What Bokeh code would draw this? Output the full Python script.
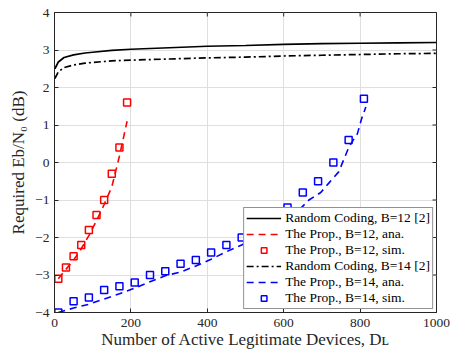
from math import pi
from bokeh.plotting import figure
from bokeh.models import Range1d, FixedTicker, Legend, LegendItem
from bokeh.embed import file_html
from bokeh.resources import INLINE

# ---------------- data ----------------
rc_x = [1, 10, 25, 50, 80, 100, 150, 200, 300, 400, 500, 600, 700, 800, 900, 1000]
rc12 = [2.5, 2.68, 2.8, 2.87, 2.92, 2.94, 2.99, 3.02, 3.06, 3.10, 3.12, 3.15, 3.17, 3.18, 3.19, 3.2]
rc14 = [2.24, 2.42, 2.53, 2.6, 2.65, 2.67, 2.71, 2.73, 2.76, 2.79, 2.81, 2.84, 2.86, 2.88, 2.9, 2.91]

b12_x = [10, 30, 50, 70, 90, 110, 130, 150, 170, 190]
b12_ana = [-3.1, -2.85, -2.6, -2.3, -1.95, -1.55, -1.12, -0.65, 0.17, 1.1]
b12_sim = [-3.1, -2.8, -2.5, -2.2, -1.8, -1.4, -1.0, -0.3, 0.4, 1.6]

b14_x = [10, 50, 90, 130, 170, 210, 250, 290, 330, 370, 410, 450, 490, 530, 570, 610, 650, 690, 730, 770, 810]
b14_sim = [-4.0, -3.7, -3.6, -3.4, -3.3, -3.2, -3.0, -2.9, -2.7, -2.6, -2.4, -2.2, -2.0, -1.8, -1.5, -1.2, -0.8, -0.5, 0.0, 0.6, 1.7]
b14_ana_x = [10, 50, 90, 130, 170, 210, 250, 290, 330, 370, 410, 450, 490, 530, 570, 610, 640, 666, 697, 718, 744, 771, 793, 804, 815]
b14_ana = [-4.0, -3.88, -3.78, -3.64, -3.5, -3.35, -3.18, -3.02, -2.92, -2.76, -2.58, -2.38, -2.2, -1.98, -1.75, -1.5, -1.27, -1.0, -0.8, -0.55, -0.25, 0.42, 0.77, 1.17, 1.48]

x_ticks = [0, 200, 400, 600, 800, 1000]
y_ticks = [-4, -3, -2, -1, 0, 1, 2, 3, 4]
x_lim = (0, 1000)
y_lim = (-4, 4)

labels = ["Random Coding, B=12 [2]", "The Prop., B=12, ana.", "The Prop., B=12, sim.",
          "Random Coding, B=14 [2]", "The Prop., B=14, ana.", "The Prop., B=14, sim."]
x_title = "Number of Active Legitimate Devices, D\u029f"
y_title = "Required Eb/N\u2080 (dB)"

FONT = "Liberation Serif"
AX = "#262626"

p = figure(width=454, height=352, x_range=Range1d(*x_lim), y_range=Range1d(*y_lim),
           output_backend="svg", toolbar_location=None,
           min_border_left=54, min_border_right=18, min_border_top=12, min_border_bottom=40)
p.background_fill_color = "white"
p.border_fill_color = "white"
p.outline_line_color = AX
p.outline_line_width = 1

for ax, ticks in ((p.xaxis[0], x_ticks), (p.yaxis[0], y_ticks)):
    ax.ticker = FixedTicker(ticks=ticks)
    ax.major_tick_in = 4
    ax.major_tick_out = 0
    ax.minor_tick_line_color = None
    ax.axis_line_color = AX
    ax.major_tick_line_color = AX
    ax.major_label_text_font = FONT
    ax.major_label_text_font_size = "13.5px"
    ax.major_label_text_color = AX
    ax.axis_label_text_font = FONT
    ax.axis_label_text_font_style = "normal"
    ax.axis_label_text_color = AX
    ax.axis_label_text_font_size = "17px"
p.xaxis.major_label_standoff = 6
p.yaxis.major_label_standoff = 5
p.xaxis.axis_label = x_title
p.yaxis.axis_label = y_title
p.xaxis.axis_label_standoff = 0
p.yaxis.axis_label_standoff = 4

p.xgrid.ticker = FixedTicker(ticks=x_ticks)
p.ygrid.ticker = FixedTicker(ticks=y_ticks)
p.grid.grid_line_color = "#dfdfdf"
p.grid.grid_line_width = 1

# tick marks on the top and right edges (box on)
p.scatter(x_ticks, [y_lim[1]] * len(x_ticks), marker="dash", angle=pi / 2, size=8,
          line_color=AX, line_width=1)
p.scatter([x_lim[1]] * len(y_ticks), y_ticks, marker="dash", size=8, line_color=AX, line_width=1)

r1 = p.line(rc_x, rc12, line_color="black", line_width=1.7)
r2 = p.line(b12_x, b12_ana, line_color="red", line_width=1.6, line_dash="7 5")
r3 = p.scatter(b12_x, b12_sim, marker="square", size=7, line_color="red", line_width=1.5, fill_alpha=0)
r4 = p.line(rc_x, rc14, line_color="black", line_width=1.7, line_dash="7 3 2 3")
r5 = p.line(b14_ana_x, b14_ana, line_color="blue", line_width=1.6, line_dash="7 5")
r6 = p.scatter(b14_x, b14_sim, marker="square", size=7, line_color="blue", line_width=1.5, fill_alpha=0)

legend = Legend(items=[LegendItem(label=t, renderers=[r]) for t, r in zip(labels, [r1, r2, r3, r4, r5, r6])],
                location="bottom_right", margin=3, padding=2, spacing=0,
                glyph_width=35, glyph_height=14, label_height=14, label_standoff=4,
                label_text_font=FONT, label_text_font_size="13.5px", label_text_color="black",
                border_line_color=AX, border_line_width=1, background_fill_alpha=1)
p.add_layout(legend)

open("out.html", "w").write(file_html(p, INLINE))
